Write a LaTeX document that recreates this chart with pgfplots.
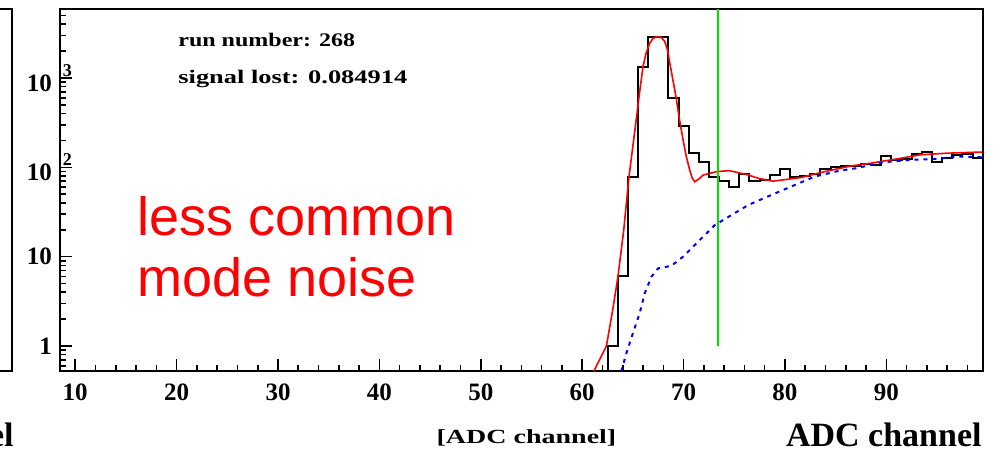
\documentclass[border=0pt]{standalone}
\usepackage{pgfplots}
\pgfplotsset{compat=1.18}
\usepackage{fontspec}
\setmainfont{Liberation Serif}
\newfontfamily\arialfont{Liberation Sans}
\definecolor{rootred}{RGB}{255,0,0}
\definecolor{rootblue}{RGB}{0,0,255}
\definecolor{rootgreen}{RGB}{0,225,0}
\newcommand{\rootsup}[1]{\rlap{\hspace{5.5pt}\raisebox{7.5pt}{\fontsize{9}{9}\selectfont #1}}}
\begin{document}
\begin{tikzpicture}[x=0.5pt,y=0.5pt]
\useasboundingbox (0,0) rectangle (1002,451);
\clip (0,0) rectangle (1002,451);
% partial left panel
\begin{axis}[at={(6pt,40pt)}, anchor=south east, scale only axis,
  width=200pt, height=180.75pt, xmin=90, xmax=100,
  ymode=log, ymin=0.525, ymax=5850, xtick=\empty, ytick=\empty,
  minor xtick={}, minor ytick={},
  axis line style={line width=1pt}]
\addplot[rootred, line width=1pt] coordinates {(96,92)(99.6,92)};
\addplot[rootblue, line width=1pt, dash pattern=on 2pt off 2pt] coordinates {(96,80)(99.6,80)};
\end{axis}
% main panel
\begin{axis}[at={(30pt,40pt)}, anchor=south west, scale only axis,
  width=461.35pt, height=180.75pt,
  xmin=8.5, xmax=99.5, ymode=log, ymin=0.525, ymax=5850,
  axis line style={line width=1pt},
  xtick={10,20,30,40,50,60,70,80,90},
  xticklabels={10,20,30,40,50,60,70,80,90},
  minor xtick={12,14,16,18,22,24,26,28,32,34,36,38,42,44,46,48,52,54,56,58,62,64,66,68,72,74,76,78,82,84,86,88,92,94,96,98},
  ytick={1,10,100,1000},
  yticklabels={1,10,10\rootsup{2},10\rootsup{3}},
  minor ytick={0.6,0.7,0.8,0.9,2,3,4,5,6,7,8,9,20,30,40,50,60,70,80,90,200,300,400,500,600,700,800,900,2000,3000,4000,5000},
  xtick pos=bottom, ytick pos=left, tick align=inside,
  major tick length=6pt, minor tick length=3pt,
  tick style={black, line width=0.8pt},
  tick label style={font=\fontsize{12.5}{14}\selectfont\bfseries},
  xticklabel style={yshift=-3pt},
  yticklabel style={xshift=-0.5pt},
  clip=true]
% data histogram
\addplot[black, line width=1pt, const plot mark left] coordinates {
 (62.5,0.3) (62.5,1) (63.5,6) (64.5,77) (65.5,1340) (66.5,2850) (67.5,2850)
 (68.5,604) (69.5,291) (70.5,144) (71.5,114) (72.5,77) (73.5,70) (74.5,61)
 (75.5,85) (76.5,70) (77.5,72) (78.5,82) (79.5,96) (80.5,77) (81.5,81)
 (82.5,84) (83.5,96) (84.5,100) (85.5,104) (86.5,104) (87.5,108) (88.5,105)
 (89.5,135) (90.5,121) (91.5,124) (92.5,141) (93.5,150) (94.5,116)
 (95.5,128) (96.5,138) (97.5,140) (98.5,128) (99.5,128)};
% fit
\addplot[rootred, line width=0.8pt] coordinates {
 (61.14,0.52) (62.39,1.0) (63.0,2.5) (63.53,6) (64.1,20) (64.62,79) (65.41,404) (65.7,750)
 (66.0,1340) (66.3,1900) (66.66,2450) (67.0,2790) (67.4,2900) (67.8,2850)
 (68.14,2570) (68.4,2100) (68.64,1465) (68.95,950) (69.3,569) (69.6,340)
 (69.95,203) (70.25,135) (70.6,93.5) (70.85,76) (71.1,69) (71.5,74)
 (71.93,82) (73.25,89.5) (74.5,92) (76.4,82) (77.36,75.5) (78.8,70)
 (81.6,77) (83.9,89.5) (86.57,104) (88.4,111) (91.34,126) (93.3,138)
 (95.95,144) (99.07,148) (99.5,148)};
% background
\addplot[rootblue, line width=1pt, dash pattern=on 2pt off 2.5pt] coordinates {
 (63.85,0.52) (64.36,0.83) (65.0,1.39) (65.67,2.32) (66.17,3.9) (66.83,5.97)
 (67.49,7.4) (68.8,7.9) (69.95,10) (71.27,14.1) (73.08,22.6) (76.4,38)
 (79.0,51) (80.98,63.5) (82.95,79) (85.25,91) (87.07,98) (89.7,114)
 (92.33,121) (94.6,124) (97.27,132) (99.5,130)};
% cut line
\addplot[rootgreen, line width=1pt] coordinates {(73.4,1) (73.4,5850)};
\end{axis}
% texts
\node[anchor=base west, inner sep=0pt] at (178,405)
  {\scalebox{1}[0.8]{\fontsize{12}{14}\selectfont\bfseries run number: 268}};
\node[anchor=base west, inner sep=0pt] at (178,368)
  {\scalebox{1.1}[0.8]{\fontsize{12}{14}\selectfont\bfseries signal lost: 0.084914}};
\node[anchor=base west, inner sep=0pt, text=rootred] at (137,216)
  {\arialfont\fontsize{27}{30}\selectfont less common};
\node[anchor=base west, inner sep=0pt, text=rootred] at (137,154.3)
  {\arialfont\fontsize{27}{30}\selectfont mode noise};
\node[anchor=base, inner sep=0pt] at (526.5,8)
  {\scalebox{1.4}[1]{\fontsize{10}{12}\selectfont\bfseries [ADC channel]}};
\node[anchor=base east, inner sep=0pt] at (982,4.3)
  {\fontsize{17}{20}\selectfont\bfseries ADC channel};
\node[anchor=base east, inner sep=0pt] at (14,4.3)
  {\fontsize{17}{20}\selectfont\bfseries ADC channel};
\end{tikzpicture}
\end{document}
